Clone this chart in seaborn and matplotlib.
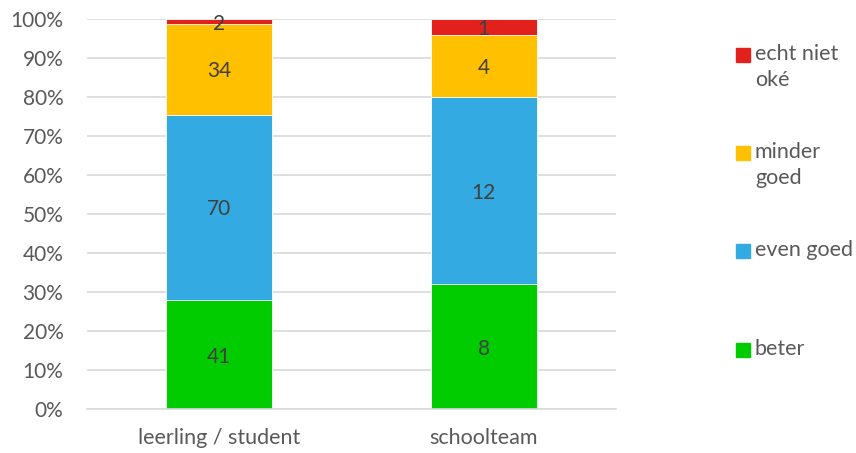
import numpy as np
import pandas as pd
import matplotlib
matplotlib.use("Agg")
import matplotlib.pyplot as plt
from matplotlib.patches import Rectangle
import seaborn as sns

# Survey answers per group (counts)
groups = ["leerling / student", "schoolteam"]
categories = ["beter", "even goed", "minder goed", "echt niet oké"]
legend_labels = ["beter", "even goed", "minder\ngoed", "echt niet\noké"]
beter = [41, 8]
even_goed = [70, 12]
minder_goed = [34, 4]
echt_niet_oke = [2, 1]
colors = ["#00CC00", "#33AAE1", "#FFC000", "#E3211C"]

counts = np.array([beter, even_goed, minder_goed, echt_niet_oke], dtype=float)
shares = counts / counts.sum(axis=0) * 100
cumulative = np.cumsum(shares, axis=0)

sns.set_theme(style="white")
plt.rcParams["font.family"] = ["Lato", "DejaVu Sans"]
text_color = "#595959"

fig = plt.figure(figsize=(8.56, 4.53), dpi=100)
ax = fig.add_axes([87 / 856, 1 - 409 / 453, (616 - 87) / 856, (409 - 19) / 453])

# stacked bars: draw cumulative layers from the top down
for i in range(len(categories) - 1, -1, -1):
    df = pd.DataFrame({"groep": groups, "pct": cumulative[i]})
    sns.barplot(data=df, x="groep", y="pct", color=colors[i], width=0.4,
                saturation=1, edgecolor="white", linewidth=0.6, ax=ax, zorder=2)

# value labels in the middle of each segment
for i in range(len(categories)):
    for j in range(len(groups)):
        mid = cumulative[i][j] - shares[i][j] / 2
        ax.text(j, mid, f"{int(counts[i][j])}", ha="center", va="center_baseline",
                fontsize=15, color="#404040", zorder=3)

ax.set_ylim(0, 100)
ax.set_xlim(-0.5, 1.5)
ax.set_yticks(np.arange(0, 101, 10))
ax.set_yticklabels([f"{v}%" for v in range(0, 101, 10)])
ax.yaxis.grid(True, color="#D9D9D9", linewidth=1.2, zorder=0)
ax.set_axisbelow(True)
ax.set_xlabel("")
ax.set_ylabel("")
for side in ["top", "right", "left"]:
    ax.spines[side].set_visible(False)
ax.spines["bottom"].set_color("#D9D9D9")
ax.spines["bottom"].set_linewidth(1.2)
ax.tick_params(axis="y", length=0, labelsize=15, labelcolor=text_color, pad=17)
ax.tick_params(axis="x", length=0, labelsize=15.5, labelcolor=text_color, pad=14)

# legend on the right, top entry first
legend_y = [55, 153, 251, 350]
for k, i in enumerate(range(len(categories) - 1, -1, -1)):
    y = 1 - legend_y[k] / 453
    fig.patches.append(Rectangle((736 / 856, y - 7 / 453), 14 / 856, 14 / 453,
                                 transform=fig.transFigure, color=colors[i]))
    fig.text(755 / 856, y + 11 / 453, legend_labels[i], ha="left", va="top",
             fontsize=15.5, color=text_color, linespacing=1.35)

fig.savefig("out.png", dpi=100, facecolor="white")
